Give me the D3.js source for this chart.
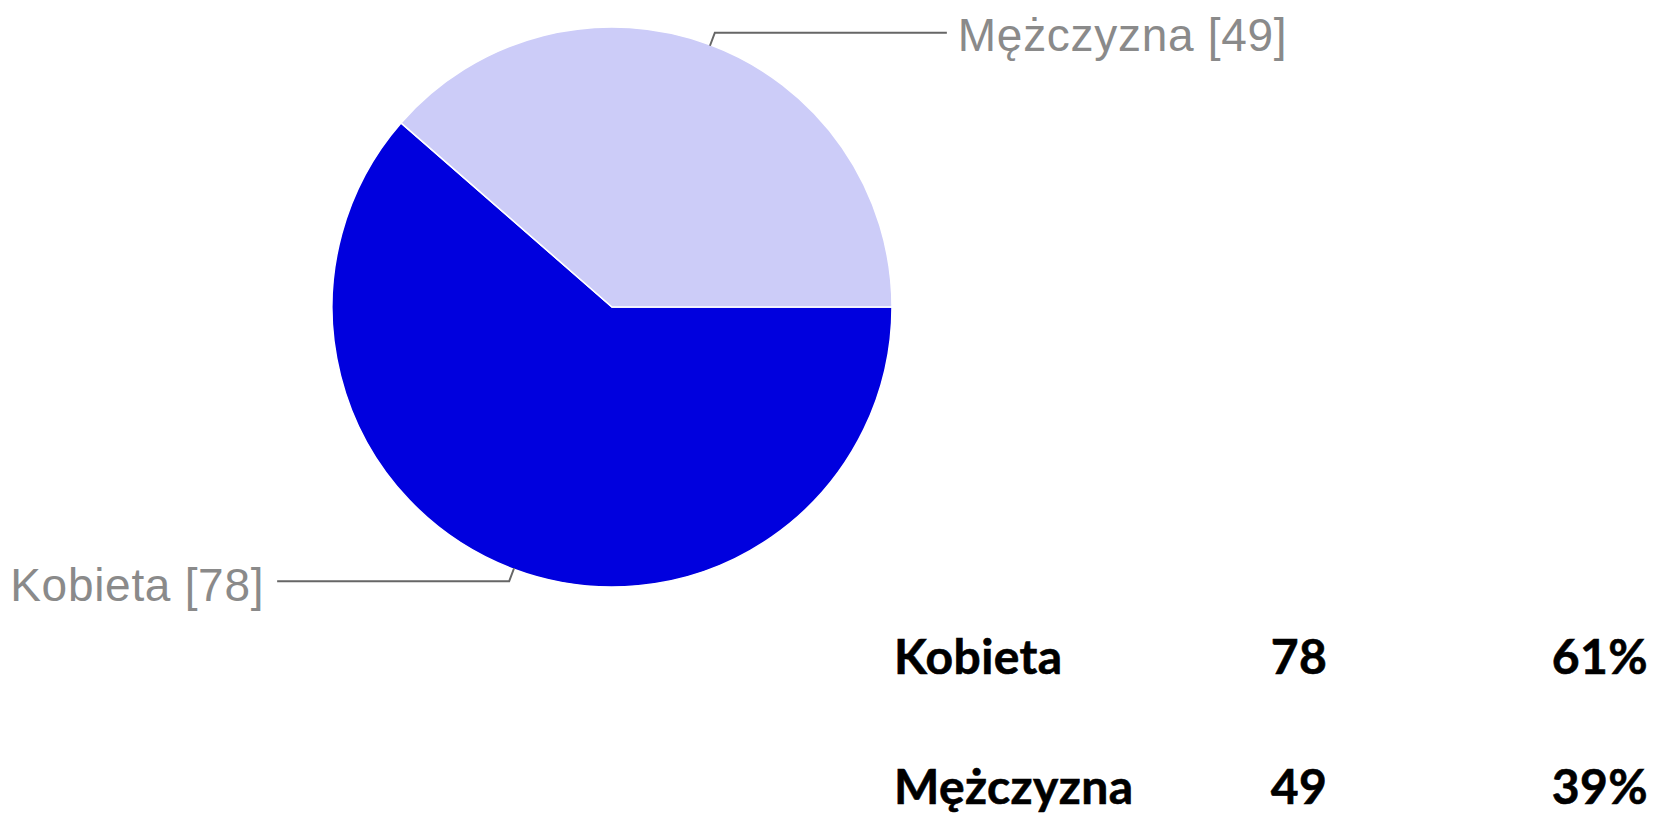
<!DOCTYPE html>
<html>
<head>
<meta charset="utf-8">
<script src="https://cdn.jsdelivr.net/npm/d3@7"></script>
<style>
  html, body { margin: 0; padding: 0; background: #fff; }
  svg { display: block; }
</style>
</head>
<body>
<svg id="chart" width="1659" height="814"></svg>
<script>
// ---- data ----
const categories = ["Kobieta", "Mężczyzna"];
const values = [78, 49];
const percentLabels = ["61%", "39%"];
const sliceColors = ["#0000DE", "#CCCCF8"];

// ---- layout ----
const W = 1659, H = 814;
const cx = 612, cy = 307, R = 280;

const svg = d3.select("#chart");
const data = categories.map((c, i) => ({ name: c, value: values[i], color: sliceColors[i], pct: percentLabels[i] }));

const pie = d3.pie()
  .value(d => d.value)
  .sort(null)
  .startAngle(Math.PI / 2)
  .endAngle(Math.PI / 2 + 2 * Math.PI);

const arcs = pie(data);
const arc = d3.arc().innerRadius(0).outerRadius(R);

const g = svg.append("g").attr("transform", `translate(${cx},${cy})`);

g.selectAll("path.slice")
  .data(arcs)
  .enter().append("path")
  .attr("class", "slice")
  .attr("d", arc)
  .attr("fill", d => d.data.color)
  .attr("stroke", "#ffffff")
  .attr("stroke-width", 1.5);

// leader lines + labels
const hLen = 232;   // horizontal leader length
const elbowR = R + 13;
arcs.forEach(a => {
  const mid = (a.startAngle + a.endAngle) / 2;
  const px = Math.sin(mid) * (R - 1), py = -Math.cos(mid) * (R - 1);
  const ex = Math.sin(mid) * elbowR, ey = -Math.cos(mid) * elbowR;
  const right = Math.sin(mid) > 0;
  const hx = right ? ex + hLen : ex - hLen;
  g.append("path")
    .attr("d", `M${px},${py}L${ex},${ey}L${hx},${ey}`)
    .attr("fill", "none")
    .attr("stroke", "#666666")
    .attr("stroke-width", 2);
  g.append("text")
    .attr("x", right ? hx + 11 : hx - 13)
    .attr("y", ey + (right ? 18 : 20))
    .attr("text-anchor", right ? "start" : "end")
    .attr("font-family", "Liberation Sans, Arial, sans-serif")
    .attr("font-size", 46)
    .attr("letter-spacing", 0.7)
    .attr("fill", "#8a8a8a")
    .text(`${a.data.name} [${a.data.value}]`);
});

// summary table
const rowY = d3.scalePoint().domain(categories).range([674, 804]);
const table = svg.append("g")
  .attr("font-family", "Lato, 'Open Sans', sans-serif")
  .attr("font-weight", "bold")
  .attr("font-size", 48)
  .attr("letter-spacing", 0.4)
  .attr("fill", "#000")
  .attr("stroke", "#000")
  .attr("stroke-width", 0.6);

table.selectAll("text.name").data(data).enter().append("text")
  .attr("class", "name")
  .attr("x", 894)
  .attr("y", d => rowY(d.name))
  .text(d => d.name);

table.selectAll("text.val").data(data).enter().append("text")
  .attr("class", "val")
  .attr("x", 1299)
  .attr("text-anchor", "middle")
  .attr("y", d => rowY(d.name))
  .text(d => d.value);

table.selectAll("text.pct").data(data).enter().append("text")
  .attr("class", "pct")
  .attr("x", 1648)
  .attr("text-anchor", "end")
  .attr("y", d => rowY(d.name))
  .text(d => d.pct);
</script>
</body>
</html>
